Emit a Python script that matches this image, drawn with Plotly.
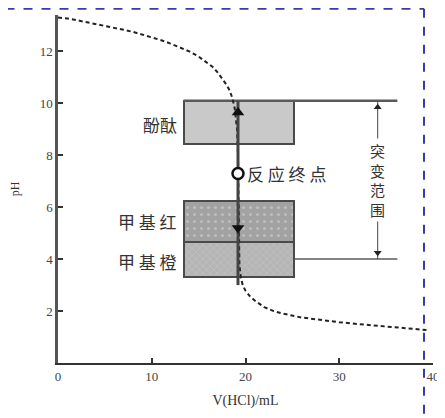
import plotly.graph_objects as go

# Titration curve (V HCl in mL, pH)
curve_v = [0, 1, 2, 3, 4, 5, 6, 7, 8, 9, 10, 11, 12, 13, 14, 15, 16, 16.5, 17, 17.5, 18, 18.3, 18.6,
           18.85, 19.0, 19.1, 19.2, 19.25, 19.3, 19.35, 19.5, 19.7, 20, 20.5, 21, 22, 23, 24, 26, 28,
           30, 32, 34, 36, 38, 39.3]
curve_ph = [13.3, 13.27, 13.2, 13.13, 13.05, 12.98, 12.9, 12.83, 12.75, 12.65, 12.55, 12.43, 12.3,
            12.15, 12.0, 11.8, 11.55, 11.4, 11.2, 10.97, 10.7, 10.5, 10.2, 9.8, 9.4, 9.0, 8.0, 6.0,
            4.5, 3.8, 3.3, 3.0, 2.78, 2.56, 2.4, 2.15, 2.0, 1.9, 1.75, 1.65, 1.57, 1.5, 1.43, 1.37,
            1.3, 1.27]

# Indicator colour-change ranges
indicator_names = ["酚酞", "甲基红", "甲基橙"]
indicator_labels = ["酚酞", "甲 基 红", "甲 基 橙"]
indicator_low = [8.45, 4.65, 3.3]
indicator_high = [10.1, 6.25, 4.65]
indicator_label_ph = [9.2, 5.45, 3.9]
box_left = 13.4
box_right = 25.2
label_v = 12.9

# Endpoint
endpoint_v = 19.2
endpoint_ph = 7.3
endpoint_label = "反 应 终 点"
arrow_bottom_ph = 3.0
arrow_up_ph = 9.65
arrow_down_ph = 5.2

# Jump range
jump_low = 4.0
jump_high = 10.1
jump_v = 34.1
jump_line_end = 36.2
jump_text_ph = 7.05

x_ticks = [0, 10, 20, 30, 40]
y_ticks = [2, 4, 6, 8, 10, 12]

serif = "Liberation Serif, Times New Roman, serif"
cjk = "Noto Sans CJK SC, sans-serif"

fig = go.Figure()

# Indicator boxes as bars
fills = ["#c9c9c9", "#a2a2a2", "#b5b5b5"]
patterns = [dict(shape=""), dict(shape=".", fgcolor="#d8d8d8", size=7, solidity=0.15),
            dict(shape="x", fgcolor="#d8d8d8", size=5, solidity=0.2)]
for i in range(3):
    fig.add_trace(go.Bar(
        x=[(box_left + box_right) / 2], y=[indicator_high[i] - indicator_low[i]],
        base=[indicator_low[i]], width=[box_right - box_left],
        marker=dict(color=fills[i], line=dict(color="#4a4a4a", width=2), pattern=patterns[i]),
        showlegend=False, hoverinfo="skip"))

# Horizontal jump-range lines
fig.add_trace(go.Scatter(x=[box_left, jump_line_end], y=[jump_high, jump_high], mode="lines",
                         line=dict(color="#5a5a5a", width=2.5), showlegend=False))
fig.add_trace(go.Scatter(x=[box_right, jump_line_end], y=[jump_low, jump_low], mode="lines",
                         line=dict(color="#5a5a5a", width=1.5), showlegend=False))

# Titration curve
fig.add_trace(go.Scatter(x=curve_v, y=curve_ph, mode="lines",
                         line=dict(color="#222", width=2, dash="4px,3px"),
                         showlegend=False))

# Vertical endpoint line
fig.add_trace(go.Scatter(x=[endpoint_v, endpoint_v], y=[arrow_bottom_ph, jump_high], mode="lines",
                         line=dict(color="#444", width=3), showlegend=False))
fig.add_trace(go.Scatter(x=[endpoint_v], y=[arrow_up_ph], mode="markers",
                         marker=dict(symbol="triangle-up", size=11, color="#111"), showlegend=False))
fig.add_trace(go.Scatter(x=[endpoint_v], y=[arrow_down_ph], mode="markers",
                         marker=dict(symbol="triangle-down", size=11, color="#111"), showlegend=False))
fig.add_trace(go.Scatter(x=[endpoint_v], y=[endpoint_ph], mode="markers",
                         marker=dict(symbol="circle", size=11, color="white",
                                     line=dict(color="#111", width=2.5)), showlegend=False))

# Jump range double arrow
fig.add_trace(go.Scatter(x=[jump_v, jump_v], y=[jump_low, jump_high], mode="lines",
                         line=dict(color="#444", width=1), showlegend=False))
fig.add_trace(go.Scatter(x=[jump_v], y=[jump_high - 0.25], mode="markers",
                         marker=dict(symbol="triangle-up", size=7, color="#222"), showlegend=False))
fig.add_trace(go.Scatter(x=[jump_v], y=[jump_low + 0.25], mode="markers",
                         marker=dict(symbol="triangle-down", size=7, color="#222"), showlegend=False))

# Labels
for i in range(3):
    fig.add_annotation(x=label_v, y=indicator_label_ph[i], text=indicator_labels[i], showarrow=False,
                       xanchor="right", font=dict(family=cjk, size=17, color="#333"))
fig.add_annotation(x=endpoint_v + 0.7, y=endpoint_ph, text=endpoint_label, showarrow=False,
                   xanchor="left", font=dict(family=cjk, size=17, color="#333"))
fig.add_annotation(x=jump_v, y=jump_text_ph, text="突<br>变<br>范<br>围", showarrow=False,
                   bgcolor="white", font=dict(family=cjk, size=15, color="#333"))

# Blue dashed frame (decorative)
fig.add_shape(type="line", xref="paper", yref="paper", x0=-0.14, x1=0.976, y0=1.018, y1=1.018,
              line=dict(color="#3a3aaa", width=2, dash="dash"))
fig.add_shape(type="line", xref="paper", yref="paper", x0=0.976, x1=0.976, y0=1.018, y1=-0.16,
              line=dict(color="#3a3aaa", width=2, dash="dash"))

fig.update_layout(
    width=437, height=410,
    margin=dict(l=50, r=12, t=7, b=55),
    plot_bgcolor="white", paper_bgcolor="white",
    bargap=0, barmode="overlay",
    font=dict(family=serif, size=13, color="#333"),
    xaxis=dict(range=[0, 40], tickvals=x_ticks, ticks="inside", ticklen=5, tickwidth=1.5,
               tickcolor="#333", showline=True, linecolor="#333", linewidth=2,
               showgrid=False, zeroline=False, automargin=False,
               tickfont=dict(family=serif, size=13, color="#444"),
               title=dict(text="V(HCl)/mL", font=dict(family=serif, size=14, color="#333"), standoff=13)),
    yaxis=dict(range=[0, 13.4], tickvals=y_ticks, ticks="inside", ticklen=5, tickwidth=1.5,
               tickcolor="#333", showline=True, linecolor="#555", linewidth=2.5,
               showgrid=False, zeroline=False, automargin=False,
               tickfont=dict(family=serif, size=13, color="#444"),
               title=dict(text="pH", font=dict(family=serif, size=12, color="#333"), standoff=24)),
)

fig.write_html("out.html")
